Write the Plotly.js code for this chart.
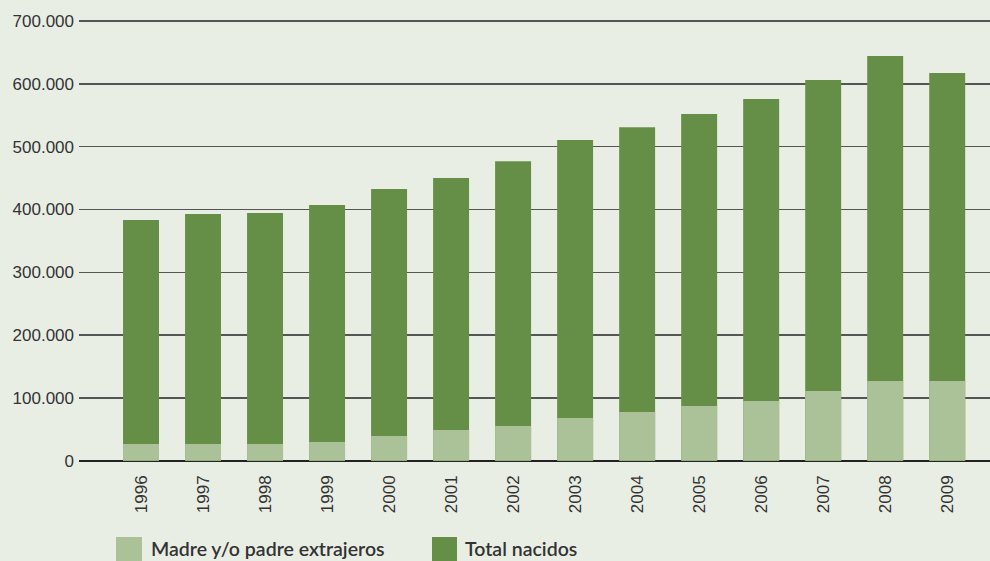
<!DOCTYPE html>
<html>
<head>
<meta charset="utf-8">
<script src="https://cdn.plot.ly/plotly-3.0.1.min.js"></script>
<style>html,body{margin:0;padding:0;background:#e9eee5;}</style>
</head>
<body>
<div id="chart" style="width:990px;height:561px;"></div>
<script>
const years = ['1996','1997','1998','1999','2000','2001','2002','2003','2004','2005','2006','2007','2008','2009'];
const totalNacidos = [383300, 392800, 394400, 407000, 432600, 450000, 477000, 510700, 531000, 552000, 576000, 606200, 644400, 617400];
const extranjeros = [26600, 26600, 26600, 29800, 39300, 48900, 55300, 68000, 77500, 87000, 95000, 111000, 127000, 127000];
const seriesNames = ['Madre y/o padre extrajeros', 'Total nacidos'];
const yTicks = [0, 100000, 200000, 300000, 400000, 500000, 600000, 700000];

const lightGreen = '#abc197';
const darkGreen = '#658f46';
const textColor = '#333333';

const traces = [
  {type:'bar', x: years, y: totalNacidos, name: seriesNames[1], width: 0.58,
   marker:{color: darkGreen, line:{width:0}}, opacity:1, hoverinfo:'skip'},
  {type:'bar', x: years, y: extranjeros, name: seriesNames[0], width: 0.58,
   marker:{color: lightGreen, line:{width:0}}, opacity:1, hoverinfo:'skip'}
];

const W = 911, H = 447, L = 79, T = 15;
const px = v => (v - L) / W;
const py = v => (T + H - v) / H;

const layout = {
  width: 990, height: 561,
  margin: {l: L, r: 0, t: T, b: 561 - T - H, pad: 0},
  paper_bgcolor: '#e9eee5',
  plot_bgcolor: '#e9eee5',
  barmode: 'overlay',
  separators: ',.',
  showlegend: false,
  font: {family: 'Liberation Sans, Arial, sans-serif', size: 17, color: textColor},
  xaxis: {
    type: 'category', range: [-1.0, 13.69],
    tickangle: -90, ticks: '', showgrid: false, zeroline: false, showline: false,
    ticklabelstandoff: 9,
    tickfont: {family: 'Liberation Sans, Arial, sans-serif', size: 17, color: textColor}
  },
  yaxis: {
    range: [-2070, 709700],
    tickmode: 'array', tickvals: yTicks, tickformat: ',d',
    showgrid: true, gridcolor: '#555555', gridwidth: 1.4,
    zeroline: true, zerolinecolor: '#222222', zerolinewidth: 1.8,
    showline: false, ticks: '', ticklabelstandoff: 4,
    tickfont: {family: 'Liberation Sans, Arial, sans-serif', size: 17, color: textColor}
  },
  shapes: [
    {type:'rect', xref:'paper', yref:'paper', x0: px(116), x1: px(142), y0: py(537), y1: py(563),
     fillcolor: lightGreen, line:{width:0}},
    {type:'rect', xref:'paper', yref:'paper', x0: px(432), x1: px(457), y0: py(537), y1: py(563),
     fillcolor: darkGreen, line:{width:0}}
  ],
  annotations: [
    {xref:'paper', yref:'paper', x: px(150), y: py(561), xanchor:'left', yanchor:'bottom', showarrow:false, borderpad:0,
     text: seriesNames[0], font:{family:'Lato, Noto Sans, sans-serif', size:19.5, color:textColor, weight:600}},
    {xref:'paper', yref:'paper', x: px(464), y: py(561), xanchor:'left', yanchor:'bottom', showarrow:false, borderpad:0,
     text: seriesNames[1], font:{family:'Lato, Noto Sans, sans-serif', size:19.5, color:textColor, weight:600}}
  ]
};

Plotly.newPlot('chart', traces, layout, {displayModeBar: false, staticPlot: true});
</script>
</body>
</html>
